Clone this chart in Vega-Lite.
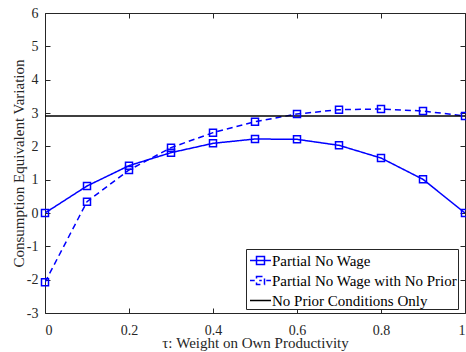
{
  "$schema": "https://vega.github.io/schema/vega-lite/v6.json",
  "autosize": {"type": "none"},
  "padding": {"left": 45, "top": 13, "right": 1, "bottom": 39},
  "width": 420,
  "height": 300,
  "background": "white",
  "config": {
    "view": {"stroke": null},
    "font": "Liberation Serif, Times New Roman, serif",
    "axis": {
      "grid": false,
      "domainColor": "#262626",
      "domainWidth": 1,
      "tickColor": "#262626",
      "tickWidth": 1,
      "tickSize": -5,
      "labelFont": "Liberation Serif, Times New Roman, serif",
      "labelFontSize": 14,
      "labelColor": "#262626",
      "titleFont": "Liberation Serif, Times New Roman, serif",
      "titleFontSize": 15,
      "titleFontWeight": "normal",
      "titleColor": "#262626"
    },
    "legend": {
      "labelFont": "Liberation Serif, Times New Roman, serif"
    }
  },
  "data": {
    "values": [
      {"tau": 0.0, "cev": 0.0, "series": "Partial No Wage"},
      {"tau": 0.1, "cev": 0.81, "series": "Partial No Wage"},
      {"tau": 0.2, "cev": 1.42, "series": "Partial No Wage"},
      {"tau": 0.3, "cev": 1.81, "series": "Partial No Wage"},
      {"tau": 0.4, "cev": 2.09, "series": "Partial No Wage"},
      {"tau": 0.5, "cev": 2.22, "series": "Partial No Wage"},
      {"tau": 0.6, "cev": 2.21, "series": "Partial No Wage"},
      {"tau": 0.7, "cev": 2.03, "series": "Partial No Wage"},
      {"tau": 0.8, "cev": 1.65, "series": "Partial No Wage"},
      {"tau": 0.9, "cev": 1.01, "series": "Partial No Wage"},
      {"tau": 1.0, "cev": 0.0, "series": "Partial No Wage"},
      {"tau": 0.0, "cev": -2.08, "series": "Partial No Wage with No Prior"},
      {"tau": 0.1, "cev": 0.34, "series": "Partial No Wage with No Prior"},
      {"tau": 0.2, "cev": 1.29, "series": "Partial No Wage with No Prior"},
      {"tau": 0.3, "cev": 1.96, "series": "Partial No Wage with No Prior"},
      {"tau": 0.4, "cev": 2.41, "series": "Partial No Wage with No Prior"},
      {"tau": 0.5, "cev": 2.74, "series": "Partial No Wage with No Prior"},
      {"tau": 0.6, "cev": 2.97, "series": "Partial No Wage with No Prior"},
      {"tau": 0.7, "cev": 3.1, "series": "Partial No Wage with No Prior"},
      {"tau": 0.8, "cev": 3.12, "series": "Partial No Wage with No Prior"},
      {"tau": 0.9, "cev": 3.06, "series": "Partial No Wage with No Prior"},
      {"tau": 1.0, "cev": 2.91, "series": "Partial No Wage with No Prior"},
      {"tau": 0.0, "cev": 2.91, "series": "No Prior Conditions Only"},
      {"tau": 1.0, "cev": 2.91, "series": "No Prior Conditions Only"}
    ]
  },
  "layer": [
    {
      "mark": {"type": "line", "clip": true},
      "encoding": {
        "x": {
          "field": "tau", "type": "quantitative",
          "scale": {"domain": [0, 1], "nice": false, "zero": false},
          "axis": {
            "orient": "bottom",
            "values": [0, 0.2, 0.4, 0.6, 0.8, 1],
            "format": "~g",
            "labelPadding": 15,
            "title": "τ: Weight on Own Productivity",
            "titlePadding": -2
          }
        },
        "y": {
          "field": "cev", "type": "quantitative",
          "scale": {"domain": [-3, 6], "nice": false, "zero": false},
          "axis": {
            "orient": "left",
            "values": [-3, -2, -1, 0, 1, 2, 3, 4, 5, 6],
            "labelExpr": "'' + datum.value",
            "labelPadding": 12,
            "title": "Consumption Equivalent Variation",
            "titlePadding": 0
          }
        },
        "color": {
          "field": "series", "type": "nominal",
          "scale": {
            "domain": ["Partial No Wage", "Partial No Wage with No Prior", "No Prior Conditions Only"],
            "range": ["#0000ff", "#0000ff", "#000000"]
          },
          "legend": {
            "title": null,
            "orient": "none",
            "legendX": 201,
            "legendY": 236,
            "direction": "vertical",
            "fillColor": "white",
            "strokeColor": "#262626",
            "padding": 0,
            "symbolOffset": 3,
            "cornerRadius": 0,
            "labelFont": "Liberation Serif, Times New Roman, serif",
            "labelFontSize": 15,
            "labelColor": "#000000",
            "labelOffset": 0,
            "labelLimit": 400,
            "rowPadding": -4,
            "symbolSize": 441,
            "symbolStrokeWidth": 1.5,
            "encode": {
              "symbols": {
                "update": {
                  "strokeDash": {"value": []},
                  "strokeWidth": {"signal": "datum.value === 'No Prior Conditions Only' ? 1 : 1.5"},
                  "shape": {"signal": "datum.value === 'No Prior Conditions Only' ? 'stroke' : datum.value === 'Partial No Wage' ? 'M-1,0H1M-0.38,-0.38H0.38V0.38H-0.38Z' : 'M-1,0H-0.55M0.55,0H1M-0.38,-0.38H0.38V0.38H-0.38ZM-0.12,0H0.12'"}
                }
              }
            }
          }
        },
        "strokeDash": {
          "field": "series", "type": "nominal",
          "scale": {
            "domain": ["Partial No Wage", "Partial No Wage with No Prior", "No Prior Conditions Only"],
            "range": [[1, 0], [6, 4], [1, 0]]
          },
          "legend": null
        },
        "strokeWidth": {
          "field": "series", "type": "nominal",
          "scale": {
            "domain": ["Partial No Wage", "Partial No Wage with No Prior", "No Prior Conditions Only"],
            "range": [1.5, 1.5, 1]
          },
          "legend": null
        }
      }
    },
    {
      "transform": [{"filter": "datum.series !== 'No Prior Conditions Only'"}],
      "mark": {"type": "point", "shape": "square", "filled": false, "size": 49, "strokeWidth": 1.5, "opacity": 1},
      "encoding": {
        "x": {
          "field": "tau", "type": "quantitative",
          "axis": {"orient": "top", "values": [0, 0.2, 0.4, 0.6, 0.8, 1], "labels": false, "title": null}
        },
        "y": {
          "field": "cev", "type": "quantitative",
          "axis": {"orient": "right", "values": [-3, -2, -1, 0, 1, 2, 3, 4, 5, 6], "labels": false, "title": null}
        },
        "color": {"field": "series", "type": "nominal", "legend": null}
      }
    }
  ],
  "resolve": {"axis": {"x": "independent", "y": "independent"}}
}
